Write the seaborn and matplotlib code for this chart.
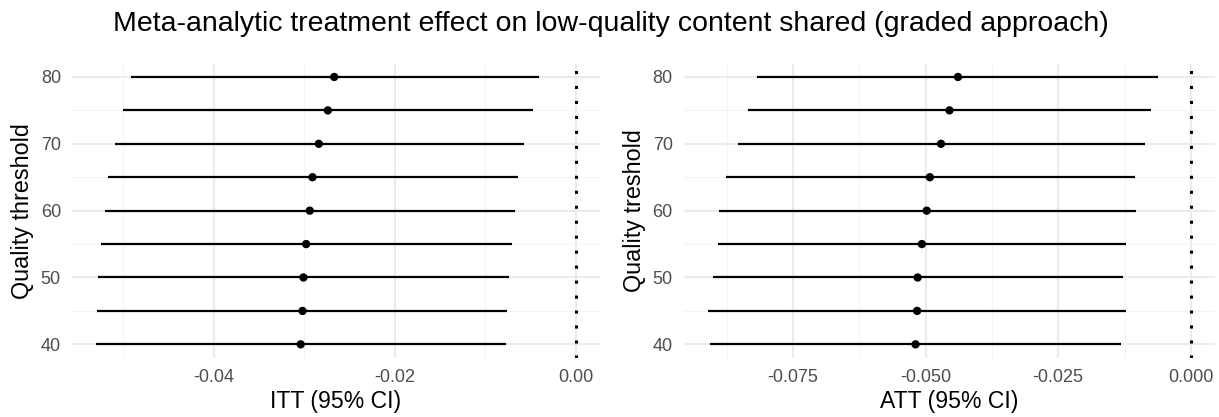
import numpy as np
import pandas as pd
import matplotlib
matplotlib.use("Agg")
import matplotlib.pyplot as plt
from matplotlib.ticker import FixedLocator, FormatStrFormatter
import seaborn as sns

# data
threshold = [40, 45, 50, 55, 60, 65, 70, 75, 80]

itt_est = [-0.0304, -0.0302, -0.0301, -0.0298, -0.0294, -0.0291, -0.0284, -0.0274, -0.0267]
itt_lo = [-0.0530, -0.0529, -0.0528, -0.0525, -0.0520, -0.0517, -0.0509, -0.0500, -0.0491]
itt_hi = [-0.0077, -0.0076, -0.0074, -0.0071, -0.0067, -0.0064, -0.0057, -0.0048, -0.0041]

att_est = [-0.0519, -0.0516, -0.0515, -0.0507, -0.0498, -0.0492, -0.0471, -0.0455, -0.0439]
att_lo = [-0.0907, -0.0910, -0.0901, -0.0891, -0.0890, -0.0877, -0.0854, -0.0835, -0.0818]
att_hi = [-0.0132, -0.0122, -0.0127, -0.0122, -0.0104, -0.0106, -0.0086, -0.0076, -0.0061]

itt_ticks = [-0.04, -0.02, 0.00]
itt_minor = [-0.05, -0.03, -0.01]
att_ticks = [-0.075, -0.050, -0.025, 0.000]
att_minor = [-0.0875, -0.0625, -0.0375, -0.0125]

sns.set_theme(style="white")
plt.rcParams['font.family'] = ['Liberation Sans', 'DejaVu Sans']
plt.rcParams['axes.unicode_minus'] = False

itt = pd.DataFrame({'threshold': threshold, 'est': itt_est, 'lo': itt_lo, 'hi': itt_hi})
att = pd.DataFrame({'threshold': threshold, 'est': att_est, 'lo': att_lo, 'hi': att_hi})

fig = plt.figure(figsize=(12.19, 4.17), dpi=100)
ax1 = fig.add_axes([0.0591, 0.1422, 0.4331, 0.7053])
ax2 = fig.add_axes([0.5611, 0.1422, 0.4356, 0.7053])

panels = [
    (ax1, itt, itt_ticks, itt_minor, "%.2f", "ITT (95% CI)", "Quality threshold"),
    (ax2, att, att_ticks, att_minor, "%.3f", "ATT (95% CI)", "Quality treshold"),
]

for ax, d, ticks, minor, fmt, xlab, ylab in panels:
    ax.hlines(d['threshold'], d['lo'], d['hi'], color='black', lw=1.6, zorder=3)
    sns.scatterplot(data=d, x='est', y='threshold', ax=ax, color='black',
                    s=36, edgecolor='none', zorder=4)
    ax.axvline(0, color='black', lw=2.2, linestyle=(0, (1, 3.9)), zorder=3)

    # ggplot-like 5% expansion, zero line included
    lo, hi = d['lo'].min(), 0.0
    pad = (hi - lo) * 0.05
    ax.set_xlim(lo - pad, hi + pad)
    ax.set_ylim(40 - 2, 80 + 2)

    ax.xaxis.set_major_locator(FixedLocator(ticks))
    ax.xaxis.set_minor_locator(FixedLocator(minor))
    ax.xaxis.set_major_formatter(FormatStrFormatter(fmt))
    ax.yaxis.set_major_locator(FixedLocator([40, 50, 60, 70, 80]))
    ax.yaxis.set_minor_locator(FixedLocator([45, 55, 65, 75]))

    ax.grid(which='major', color='#EBEBEB', lw=1.5, zorder=0)
    ax.grid(which='minor', color='#F3F3F3', lw=0.8, zorder=0)
    ax.set_axisbelow(True)
    for s in ax.spines.values():
        s.set_visible(False)
    ax.tick_params(which='both', length=0, labelsize=13, labelcolor='#4D4D4D')
    ax.tick_params(axis='y', pad=8)
    ax.tick_params(axis='x', pad=8)
    ax.set_xlabel(xlab, fontsize=16.6, color='black', labelpad=3)
    ax.set_ylabel(ylab, fontsize=16.8, color='black', labelpad=5)

fig.text(0.501, 1 - 31 / 417,
         "Meta-analytic treatment effect on low-quality content shared (graded approach)",
         fontsize=20.5, color='black', ha='center', va='baseline')

fig.savefig("out.png", dpi=100)
